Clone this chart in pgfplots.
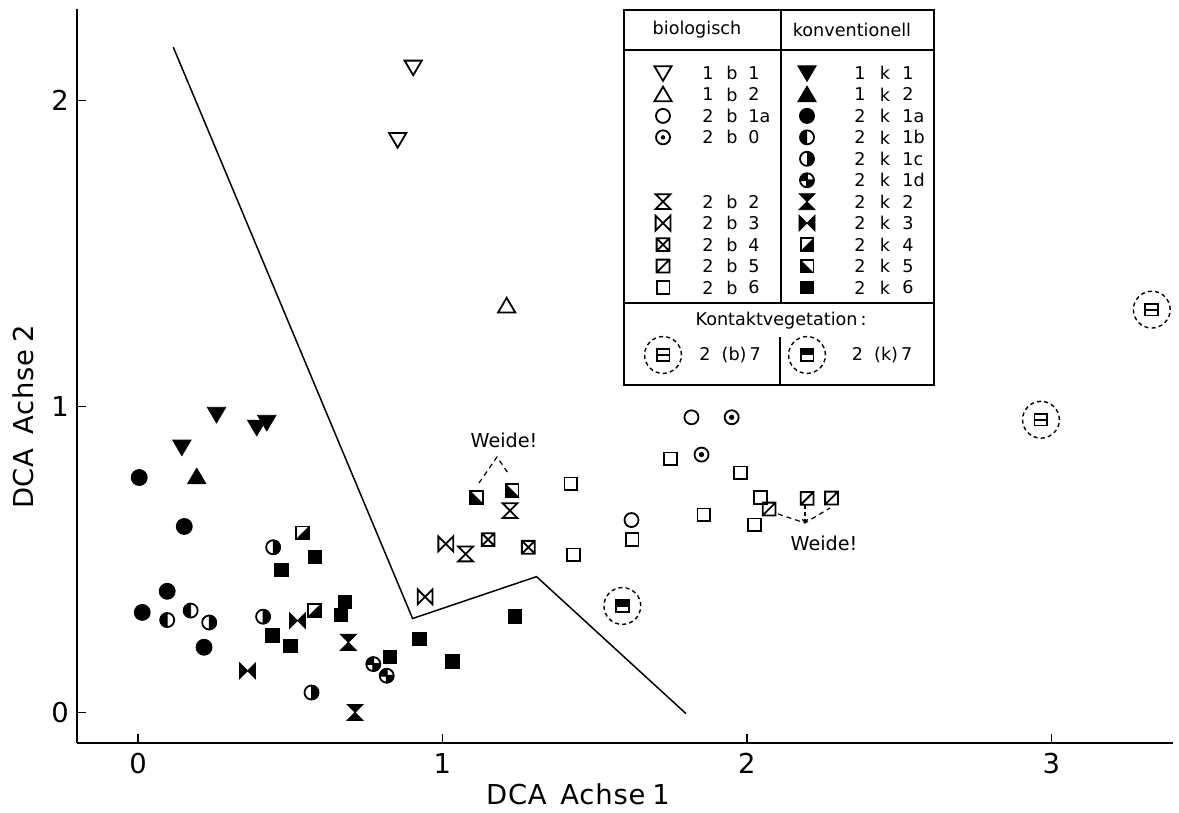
\documentclass[border=0pt]{standalone}
\usepackage{fontspec}
\setmainfont{DejaVu Sans}
\newfontfamily\lblfont[LetterSpace=3]{DejaVu Sans}
\usepackage{pgfplots}
\pgfplotsset{compat=1.18}
\usetikzlibrary{arrows.meta}
\newcommand\legf{\fontsize{8.8}{10}\selectfont}
\newcommand\weidef{\fontsize{9.6}{11}\selectfont}

% ---- custom marks (all coordinates with explicit units) ----
\pgfdeclareplotmark{tridownO}{\draw[black,line width=0.9pt,line join=miter] (-4.3pt,3.4pt)--(4.3pt,3.4pt)--(0pt,-3.9pt)--cycle;}
\pgfdeclareplotmark{triupO}{\draw[black,line width=0.9pt,line join=miter] (-4.3pt,-3.4pt)--(4.3pt,-3.4pt)--(0pt,3.9pt)--cycle;}
\pgfdeclareplotmark{tridownF}{\filldraw[black,line width=0.4pt] (-4.6pt,3.6pt)--(4.6pt,3.6pt)--(0pt,-4.2pt)--cycle;}
\pgfdeclareplotmark{triupF}{\filldraw[black,line width=0.4pt] (-4.6pt,-3.6pt)--(4.6pt,-3.6pt)--(0pt,4.2pt)--cycle;}
\pgfdeclareplotmark{circO}{\draw[black,line width=0.9pt] (0pt,0pt) circle (3.5pt);}
\pgfdeclareplotmark{circF}{\fill[black] (0pt,0pt) circle (4pt);}
\pgfdeclareplotmark{circDot}{\draw[black,line width=0.9pt] (0pt,0pt) circle (3.5pt); \fill[black] (0pt,0pt) circle (1.1pt);}
\pgfdeclareplotmark{circL}{\fill[black] (0pt,3.6pt) arc[start angle=90,end angle=270,radius=3.6pt] -- cycle; \draw[black,line width=0.9pt] (0pt,0pt) circle (3.5pt);}
\pgfdeclareplotmark{circR}{\fill[black] (0pt,3.6pt) arc[start angle=90,end angle=-90,radius=3.6pt] -- cycle; \draw[black,line width=0.9pt] (0pt,0pt) circle (3.5pt);}
\pgfdeclareplotmark{circQ}{\fill[black] (0pt,0pt) -- (0pt,3.6pt) arc[start angle=90,end angle=180,radius=3.6pt] -- cycle; \fill[black] (0pt,0pt) -- (0pt,-3.6pt) arc[start angle=270,end angle=360,radius=3.6pt] -- cycle; \draw[black,line width=0.9pt] (0pt,0pt) circle (3.5pt) (-3.5pt,0pt)--(3.5pt,0pt) (0pt,-3.5pt)--(0pt,3.5pt);}
\pgfdeclareplotmark{hourO}{\draw[black,line width=0.9pt,line join=miter] (-3.7pt,3.7pt)--(3.7pt,3.7pt)--(-3.7pt,-3.7pt)--(3.7pt,-3.7pt)--cycle;}
\pgfdeclareplotmark{hourF}{\filldraw[black,line width=0.4pt] (-4pt,4pt)--(4pt,4pt)--(-4pt,-4pt)--(4pt,-4pt)--cycle;}
\pgfdeclareplotmark{bowO}{\draw[black,line width=0.9pt,line join=miter] (-3.7pt,3.7pt)--(-3.7pt,-3.7pt)--(3.7pt,3.7pt)--(3.7pt,-3.7pt)--cycle;}
\pgfdeclareplotmark{bowF}{\filldraw[black,line width=0.4pt] (-4pt,4pt)--(-4pt,-4pt)--(4pt,4pt)--(4pt,-4pt)--cycle;}
\pgfdeclareplotmark{sqO}{\draw[black,line width=0.9pt] (-3.2pt,-3.2pt) rectangle (3.2pt,3.2pt);}
\pgfdeclareplotmark{sqX}{\draw[black,line width=0.9pt] (-3.2pt,-3.2pt) rectangle (3.2pt,3.2pt) (-3.2pt,-3.2pt)--(3.2pt,3.2pt) (-3.2pt,3.2pt)--(3.2pt,-3.2pt);}
\pgfdeclareplotmark{sqD}{\draw[black,line width=0.9pt] (-3.2pt,-3.2pt) rectangle (3.2pt,3.2pt) (-3.2pt,-3.2pt)--(3.2pt,3.2pt);}
\pgfdeclareplotmark{sqLR}{\fill[black] (-3.2pt,-3.2pt)--(3.2pt,-3.2pt)--(3.2pt,3.2pt)--cycle; \draw[black,line width=0.9pt] (-3.2pt,-3.2pt) rectangle (3.2pt,3.2pt);}
\pgfdeclareplotmark{sqLL}{\fill[black] (-3.2pt,3.2pt)--(-3.2pt,-3.2pt)--(3.2pt,-3.2pt)--cycle; \draw[black,line width=0.9pt] (-3.2pt,-3.2pt) rectangle (3.2pt,3.2pt);}
\pgfdeclareplotmark{sqF}{\fill[black] (-3.4pt,-3.4pt) rectangle (3.4pt,3.4pt);}
\pgfdeclareplotmark{bSeven}{\draw[black,line width=0.9pt] (-3.2pt,-2.9pt) rectangle (3.2pt,2.9pt) (-3.2pt,0pt)--(3.2pt,0pt); \draw[black,line width=0.7pt,dash pattern=on 2pt off 1.6pt] (0pt,0pt) circle (9.2pt);}
\pgfdeclareplotmark{kSeven}{\fill[black] (-3.2pt,0pt) rectangle (3.2pt,2.9pt); \draw[black,line width=0.9pt] (-3.2pt,-2.9pt) rectangle (3.2pt,2.9pt); \draw[black,line width=0.7pt,dash pattern=on 2pt off 1.6pt] (0pt,0pt) circle (9.2pt);}

\begin{document}
\begin{tikzpicture}
\begin{axis}[
  at={(0pt,0pt)}, anchor=south west, scale only axis,
  width=548pt, height=367pt,
  xmin=-0.2, xmax=3.4, ymin=-0.1, ymax=2.3,
  axis x line*=bottom, axis y line*=left,
  axis line style={line width=0.9pt,-},
  xtick={0,1,2,3}, ytick={0,1,2},
  tick align=inside, major tick length=4.5pt,
  tick style={line width=0.7pt,black},
  /pgf/number format/assume math mode=true,
  ticklabel style={font=\fontsize{13.7}{16}\selectfont},
  xticklabel style={inner sep=0pt, anchor=north, yshift=-5pt},
  yticklabel style={inner sep=0pt, anchor=east, xshift=-3.9pt},
  xlabel={DCA\hspace{0.5em}Achse\hspace{0.25em}1},
  ylabel={DCA\hspace{0.5em}Achse\hspace{0.25em}2},
  xlabel style={font=\lblfont\fontsize{13.7}{16}\selectfont, at={(axis description cs:0.457,-0.0695)}, anchor=center},
  ylabel style={font=\lblfont\fontsize{13.7}{16}\selectfont, at={(axis description cs:-0.0494,0.444)}, anchor=center},
  every axis plot/.append style={black},
]
% boundary line
\addplot[black, line width=0.75pt, mark=none] coordinates {(0.116,2.175)(0.902,0.307)(1.309,0.444)(1.800,-0.004)};
% 1 b 1
\addplot[only marks, mark=tridownO] coordinates {(0.904,2.109)(0.853,1.872)};
% 1 b 2
\addplot[only marks, mark=triupO] coordinates {(1.211,1.330)};
% 1 k 1
\addplot[only marks, mark=tridownF] coordinates {(0.258,0.974)(0.144,0.867)(0.390,0.932)(0.423,0.948)};
% 1 k 2
\addplot[only marks, mark=triupF] coordinates {(0.193,0.771)};
% 2 k 1a
\addplot[only marks, mark=circF] coordinates {(0.004,0.768)(0.152,0.608)(0.096,0.396)(0.014,0.327)(0.217,0.213)};
% 2 k 1b
\addplot[only marks, mark=circL] coordinates {(0.096,0.302)(0.173,0.333)};
% 2 k 1c
\addplot[only marks, mark=circR] coordinates {(0.234,0.294)(0.444,0.540)(0.411,0.313)(0.570,0.065)};
% 2 k 1d
\addplot[only marks, mark=circQ] coordinates {(0.773,0.158)(0.817,0.120)};
% 2 k 2
\addplot[only marks, mark=hourF] coordinates {(0.691,0.229)(0.713,0.0)};
% 2 k 3
\addplot[only marks, mark=bowF] coordinates {(0.360,0.136)(0.524,0.300)};
% 2 k 4
\addplot[only marks, mark=sqLR] coordinates {(0.541,0.587)(0.579,0.333)};
% 2 k 5
\addplot[only marks, mark=sqLL] coordinates {(1.112,0.703)(1.229,0.725)};
% 2 k 6
\addplot[only marks, mark=sqF] coordinates {(0.581,0.509)(0.472,0.466)(0.680,0.362)(0.666,0.319)(0.441,0.251)(0.501,0.218)(0.828,0.182)(0.924,0.240)(1.032,0.167)(1.238,0.313)};
% 2 b 2
\addplot[only marks, mark=hourO] coordinates {(1.222,0.660)(1.076,0.518)};
% 2 b 3
\addplot[only marks, mark=bowO] coordinates {(1.011,0.551)(0.943,0.378)};
% 2 b 4
\addplot[only marks, mark=sqX] coordinates {(1.150,0.565)(1.282,0.540)};
% 2 b 5
\addplot[only marks, mark=sqD] coordinates {(2.073,0.665)(2.198,0.700)(2.278,0.701)};
% 2 b 6
\addplot[only marks, mark=sqO] coordinates {(1.749,0.829)(1.422,0.747)(1.430,0.515)(1.623,0.565)(1.980,0.783)(1.859,0.646)(2.045,0.703)(2.026,0.613)};
% 2 b 1a
\addplot[only marks, mark=circO] coordinates {(1.818,0.965)(1.621,0.629)};
% 2 b 0
\addplot[only marks, mark=circDot] coordinates {(1.950,0.965)(1.851,0.843)};
% 2 (k) 7
\addplot[only marks, mark=kSeven] coordinates {(1.591,0.348)};
% 2 (b) 7
\addplot[only marks, mark=bSeven] coordinates {(2.966,0.957)(3.330,1.317)};
\end{axis}

% ---- legend table and annotations, in reference pixel units ----
\begin{scope}[x=0.5pt,y=-0.5pt,shift={(-38.55pt,371.5pt)}]
\draw[line width=0.75pt] (624,10) rectangle (934,385);
\draw[line width=0.75pt] (624,50)--(934,50) (624,303)--(934,303) (781,10)--(781,303) (780,337)--(780,385);
\node[font=\legf] at (697,30) {biologisch};
\node[font=\legf] at (852,30) {konventionell};
\foreach \r/\m/\a/\c in {1/tridownO/1/1, 2/triupO/1/2, 3/circO/2/1a, 4/circDot/2/0, 7/hourO/2/2, 8/bowO/2/3, 9/sqX/2/4, 10/sqD/2/5, 11/sqO/2/6}{
  \pgfmathsetmacro\yy{73+21.45*(\r-1)}
  \begin{scope}[shift={(663,\yy)}]\pgfuseplotmark{\m}\end{scope}
  \node[font=\legf] at (708,\yy) {\a};
  \node[font=\legf] at (732,\yy) {b};
  \node[font=\legf,anchor=west,inner sep=0pt] at (748,\yy) {\c};
}
\foreach \r/\m/\a/\c in {1/tridownF/1/1, 2/triupF/1/2, 3/circF/2/1a, 4/circL/2/1b, 5/circR/2/1c, 6/circQ/2/1d, 7/hourF/2/2, 8/bowF/2/3, 9/sqLR/2/4, 10/sqLL/2/5, 11/sqF/2/6}{
  \pgfmathsetmacro\yy{73+21.45*(\r-1)}
  \begin{scope}[shift={(807,\yy)}]\pgfuseplotmark{\m}\end{scope}
  \node[font=\legf] at (860,\yy) {\a};
  \node[font=\legf] at (885,\yy) {k};
  \node[font=\legf,anchor=west,inner sep=0pt] at (902,\yy) {\c};
}
\node[font=\legf] at (781,321) {Kontaktvegetation\,:};
\begin{scope}[shift={(663,355)}]\pgfuseplotmark{bSeven}\end{scope}
\node[font=\legf] at (730,355) {2\ \ (b)\,7};
\begin{scope}[shift={(807,355)}]\pgfuseplotmark{kSeven}\end{scope}
\node[font=\legf] at (882,355) {2\ \ (k)\,7};
% Weide annotations
\node[font=\weidef] at (504,440) {Weide!};
\draw[line width=0.6pt, dash pattern=on 2.5pt off 2pt] (479,483)--(497,457)--(508,473);
\node[font=\weidef] at (824,543) {Weide!};
\draw[line width=0.6pt, dash pattern=on 2.5pt off 2pt] (778,514)--(805,523)--(830,508);
\draw[line width=0.6pt, dash pattern=on 2pt off 1.5pt, -{To[length=2pt,width=3pt]}] (805,505)--(805,523);
\end{scope}
\pgfresetboundingbox
\useasboundingbox (-38.55pt,-35pt) rectangle (550.95pt,371.5pt);
\end{tikzpicture}
\end{document}
